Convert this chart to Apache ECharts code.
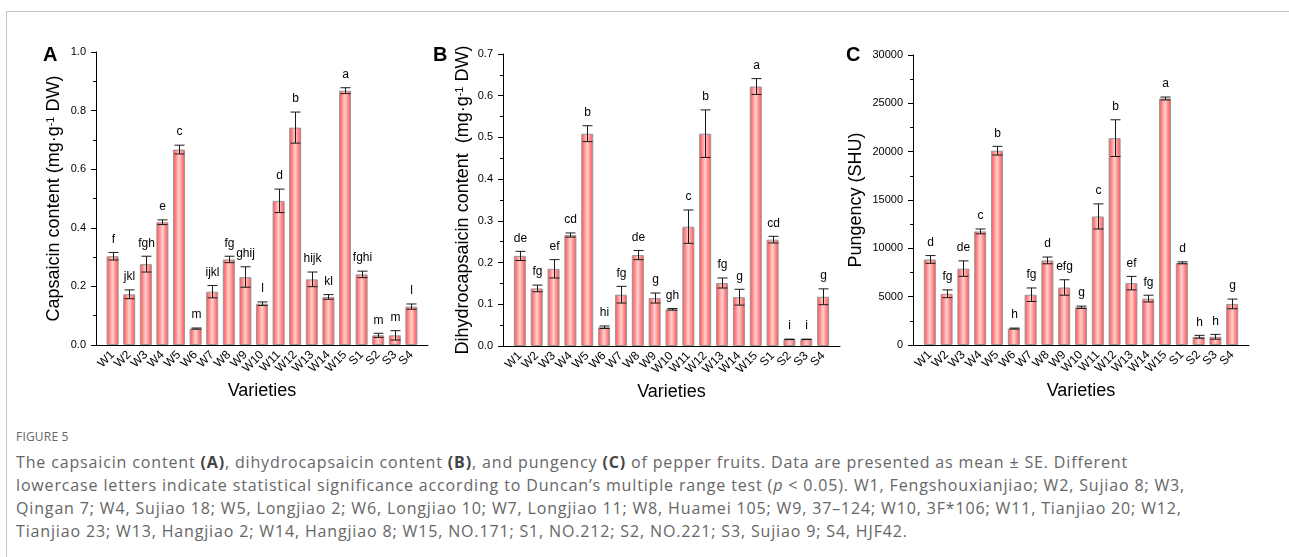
<!DOCTYPE html>
<html>
<head>
<meta charset="utf-8">
<script src="https://cdn.jsdelivr.net/npm/echarts@6/dist/echarts.min.js"></script>
<style>
  html, body { margin: 0; padding: 0; background: #fff; }
  #wrap { position: relative; width: 1289px; height: 557px; overflow: hidden; }
  #frame { position: absolute; left: 6px; top: 11px; right: -10px; bottom: -10px;
           border-top: 1.5px solid #c4c4c4; border-left: 1.5px solid #c4c4c4; }
  #chart { position: absolute; left: 0; top: 0; width: 1289px; height: 420px; }
  #figno { position: absolute; left: 16px; top: 428px; font: 12px 'Open Sans', sans-serif;
           color: #666; letter-spacing: 0.2px; }
  #caption { position: absolute; left: 16px; top: 451px; font: 16px 'Open Sans', sans-serif;
             color: #666; line-height: 23px; white-space: nowrap; letter-spacing: 0.85px; }
  #caption b { color: #444; }
</style>
</head>
<body>
<div id="wrap">
  <div id="frame"></div>
  <div id="chart"></div>
  <div id="figno">FIGURE 5</div>
  <div id="caption">
    The capsaicin content <b>(A)</b>, dihydrocapsaicin content <b>(B)</b>, and pungency <b>(C)</b> of pepper fruits. Data are presented as mean ± SE. Different<br>
    lowercase letters indicate statistical significance according to Duncan’s multiple range test (<i>p</i> &lt; 0.05). W1, Fengshouxianjiao; W2, Sujiao 8; W3,<br>
    Qingan 7; W4, Sujiao 18; W5, Longjiao 2; W6, Longjiao 10; W7, Longjiao 11; W8, Huamei 105; W9, 37–124; W10, 3F*106; W11, Tianjiao 20; W12,<br>
    Tianjiao 23; W13, Hangjiao 2; W14, Hangjiao 8; W15, NO.171; S1, NO.212; S2, NO.221; S3, Sujiao 9; S4, HJF42.
  </div>
</div>
<script>
const varieties = ['W1', 'W2', 'W3', 'W4', 'W5', 'W6', 'W7', 'W8', 'W9', 'W10',
  'W11', 'W12', 'W13', 'W14', 'W15', 'S1', 'S2', 'S3', 'S4'];

// capsaicin (mg/g DW)
const capMean = [0.303, 0.173, 0.276, 0.419, 0.667, 0.056, 0.182, 0.292, 0.232, 0.141,
  0.492, 0.742, 0.224, 0.164, 0.868, 0.241, 0.033, 0.033, 0.131];
const capErr = [0.013, 0.015, 0.027, 0.008, 0.015, 0.002, 0.021, 0.011, 0.035, 0.006,
  0.040, 0.053, 0.025, 0.008, 0.010, 0.011, 0.007, 0.016, 0.009];
const capLetters = ['f', 'jkl', 'fgh', 'e', 'c', 'm', 'ijkl', 'fg', 'ghij', 'l',
  'd', 'b', 'hijk', 'kl', 'a', 'fghi', 'm', 'm', 'l'];

// dihydrocapsaicin (mg/g DW)
const dhcMean = [0.216, 0.138, 0.185, 0.266, 0.509, 0.045, 0.123, 0.218, 0.115, 0.088,
  0.286, 0.509, 0.151, 0.117, 0.622, 0.255, 0.016, 0.016, 0.118];
const dhcErr = [0.011, 0.008, 0.022, 0.005, 0.019, 0.003, 0.020, 0.011, 0.012, 0.002,
  0.040, 0.057, 0.012, 0.019, 0.019, 0.008, 0.0005, 0.0005, 0.019];
const dhcLetters = ['de', 'fg', 'ef', 'cd', 'b', 'hi', 'fg', 'de', 'g', 'gh',
  'c', 'b', 'fg', 'g', 'a', 'cd', 'i', 'i', 'g'];

// pungency (SHU)
const pungMean = [8850, 5300, 7900, 11750, 20100, 1700, 5200, 8750, 5950, 3900,
  13300, 21400, 6400, 4800, 25500, 8500, 850, 850, 4250];
const pungErr = [400, 400, 800, 250, 450, 50, 700, 350, 800, 120,
  1300, 1900, 700, 350, 150, 100, 150, 250, 500];
const pungLetters = ['d', 'fg', 'de', 'c', 'b', 'h', 'fg', 'd', 'efg', 'g',
  'c', 'b', 'ef', 'fg', 'a', 'd', 'h', 'h', 'g'];

const FONT = 'Arial, "Liberation Sans", sans-serif';
const cats = [''].concat(varieties, ['']);

const panels = [
  { grid: { left: 96, top: 52, width: 332, height: 293 }, max: 1.0, interval: 0.2,
    fmt: v => v.toFixed(1), name: 'Capsaicin content (mg·g{sup|-1} DW)', nameGap: 33,
    mean: capMean, err: capErr, letters: capLetters, tag: 'A', tagX: 43 },
  { grid: { left: 503, top: 54, width: 337, height: 292 }, max: 0.7, interval: 0.1,
    fmt: v => v.toFixed(1), name: 'Dihydrocapsaicin content  (mg·g{sup|-1} DW)', nameGap: 31,
    mean: dhcMean, err: dhcErr, letters: dhcLetters, tag: 'B', tagX: 433 },
  { grid: { left: 913, top: 55, width: 336, height: 290 }, max: 30000, interval: 5000,
    fmt: v => String(v), name: 'Pungency (SHU)', nameGap: 48,
    mean: pungMean, err: pungErr, letters: pungLetters, tag: 'C', tagX: 846 }
];

const barColor = {
  type: 'linear', x: 0, y: 0, x2: 1, y2: 0,
  colorStops: [
    { offset: 0, color: '#ff4a4a' },
    { offset: 0.5, color: '#ffd0d0' },
    { offset: 1, color: '#ff4a4a' }
  ]
};

function errRenderer(letters) {
  return function (params, api) {
    const x = api.value(0), m = api.value(1), e = api.value(2);
    const top = api.coord([x, m + e]);
    const bot = api.coord([x, m - e]);
    const cx = Math.round(top[0]) + 0.5;
    const hw = 5;
    const ln = { stroke: '#1a1a1a', lineWidth: 1 };
    return {
      type: 'group',
      children: [
        { type: 'line', shape: { x1: cx, y1: top[1], x2: cx, y2: bot[1] }, style: ln },
        { type: 'line', shape: { x1: cx - hw, y1: top[1], x2: cx + hw, y2: top[1] }, style: ln },
        { type: 'line', shape: { x1: cx - hw, y1: bot[1], x2: cx + hw, y2: bot[1] }, style: ln },
        { type: 'text', style: { text: letters[params.dataIndex], x: cx, y: top[1] - 13,
          align: 'center', verticalAlign: 'middle', fill: '#000', font: '12px ' + FONT } }
      ]
    };
  };
}

const option = {
  animation: false,
  textStyle: { fontFamily: FONT },
  grid: [], xAxis: [], yAxis: [], series: [], graphic: []
};

panels.forEach((p, i) => {
  option.grid.push(Object.assign({ outerBoundsMode: 'none', containLabel: false }, p.grid));
  option.xAxis.push({
    type: 'category', gridIndex: i, data: cats, boundaryGap: false,
    axisLine: { lineStyle: { color: '#000', width: 1 } },
    axisTick: { show: false },
    axisLabel: { interval: 0, rotate: 45, margin: 8, fontSize: 12, color: '#000', fontFamily: FONT },
    name: 'Varieties', nameLocation: 'middle', nameGap: 35,
    nameTextStyle: { fontSize: 18, color: '#000', fontFamily: FONT },
    splitLine: { show: false }
  });
  option.yAxis.push({
    type: 'value', gridIndex: i, min: 0, max: p.max, interval: p.interval,
    axisLine: { show: true, lineStyle: { color: '#000', width: 1 } },
    axisTick: { show: true, inside: false, length: 5, lineStyle: { color: '#000' } },
    minorTick: { show: true, splitNumber: 2, length: 3, lineStyle: { color: '#000' } },
    axisLabel: { fontSize: 11, color: '#000', margin: 10, formatter: p.fmt, fontFamily: FONT },
    splitLine: { show: false },
    name: p.name, nameLocation: 'middle', nameRotate: 90, nameGap: p.nameGap,
    nameTextStyle: { fontSize: 18, color: '#000', fontFamily: FONT,
      rich: { sup: { fontSize: 11, verticalAlign: 'top', color: '#000', fontFamily: FONT } } }
  });
  option.series.push({
    type: 'bar', xAxisIndex: i, yAxisIndex: i, barWidth: 12,
    data: [null].concat(p.mean),
    itemStyle: { color: barColor, borderColor: '#999', borderWidth: 1 },
    emphasis: { disabled: true }
  });
  option.series.push({
    type: 'custom', xAxisIndex: i, yAxisIndex: i,
    data: p.mean.map((m, k) => [k + 1, m, p.err[k]]),
    renderItem: errRenderer(p.letters), z: 5
  });
  option.graphic.push({
    type: 'text', left: p.tagX, top: 45,
    style: { text: p.tag, font: 'bold 20px ' + FONT, fill: '#000' }
  });
});

const chart = echarts.init(document.getElementById('chart'));
chart.setOption(option);
</script>
</body>
</html>
